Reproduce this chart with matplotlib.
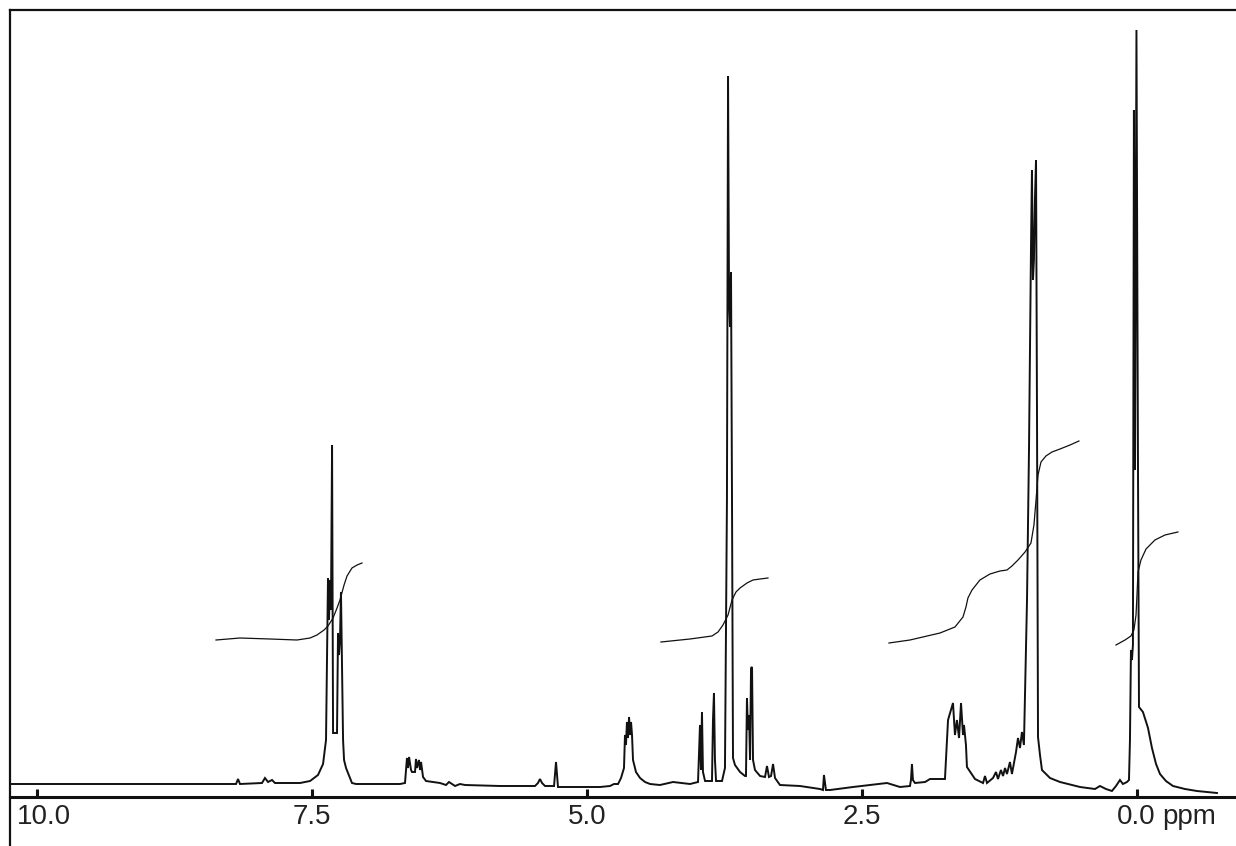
import matplotlib
matplotlib.use("Agg")
import matplotlib.pyplot as plt
from matplotlib.lines import Line2D
from matplotlib.transforms import ScaledTranslation

plt.rcParams["font.family"] = ["Liberation Sans", "DejaVu Sans"]

# %% spectrum trace (ppm, intensity)
spec_ppm = [
    10.243, 8.243, 8.188, 8.170, 8.152, 7.952, 7.925, 7.897, 7.861, 7.834,
    7.606, 7.515, 7.443, 7.397, 7.370, 7.352, 7.343, 7.334, 7.325, 7.315,
    7.306, 7.270, 7.261, 7.252, 7.243, 7.234, 7.215, 7.206, 7.188, 7.134,
    7.097, 6.697, 6.652, 6.634, 6.625, 6.615, 6.597, 6.588, 6.561, 6.552,
    6.543, 6.525, 6.515, 6.506, 6.488, 6.461, 6.334, 6.279, 6.252, 6.225,
    6.197, 6.152, 6.106, 5.788, 5.470, 5.443, 5.425, 5.406, 5.379, 5.297,
    5.279, 5.261, 4.879, 4.788, 4.752, 4.715, 4.688, 4.661, 4.652, 4.643,
    4.634, 4.625, 4.615, 4.606, 4.597, 4.588, 4.579, 4.552, 4.515, 4.470,
    4.424, 4.334, 4.215, 4.061, 3.988, 3.970, 3.961, 3.952, 3.943, 3.924,
    3.861, 3.852, 3.843, 3.834, 3.824, 3.770, 3.743, 3.725, 3.715, 3.706,
    3.697, 3.688, 3.679, 3.670, 3.652, 3.606, 3.561, 3.552, 3.543, 3.534,
    3.524, 3.515, 3.506, 3.497, 3.488, 3.470, 3.424, 3.379, 3.361, 3.343,
    3.324, 3.306, 3.288, 3.243, 3.061, 2.879, 2.852, 2.843, 2.825, 2.788,
    2.579, 2.424, 2.270, 2.152, 2.061, 2.052, 2.043, 2.034, 2.015, 1.924,
    1.879, 1.743, 1.715, 1.670, 1.652, 1.634, 1.615, 1.597, 1.579, 1.570,
    1.552, 1.543, 1.470, 1.397, 1.379, 1.361, 1.306, 1.279, 1.261, 1.234,
    1.215, 1.197, 1.179, 1.152, 1.134, 1.097, 1.079, 1.061, 1.043, 1.025,
    0.997, 0.979, 0.961, 0.952, 0.943, 0.934, 0.925, 0.915, 0.906, 0.897,
    0.879, 0.861, 0.788, 0.697, 0.515, 0.379, 0.334, 0.279, 0.225, 0.188,
    0.152, 0.125, 0.088, 0.070, 0.061, 0.052, 0.043, 0.034, 0.025, 0.015,
    0.002, -0.012, -0.021, -0.057, -0.103, -0.139, -0.176, -0.212, -0.266, -0.330,
    -0.439, -0.548, -0.730,
]
spec_int = [
    13, 13, 13, 18, 13, 14, 19, 15, 17, 14,
    14, 16, 22, 33, 57, 219, 177, 217, 187, 352,
    64, 64, 164, 142, 157, 205, 57, 37, 29, 14,
    13, 13, 14, 39, 29, 40, 27, 25, 25, 38,
    29, 37, 27, 35, 20, 16, 14, 12, 15, 13,
    11, 13, 12, 11, 11, 14, 18, 14, 11, 11,
    35, 10, 10, 11, 13, 13, 19, 29, 62, 52,
    75, 59, 80, 62, 75, 62, 37, 25, 19, 15,
    13, 12, 15, 13, 15, 72, 27, 85, 25, 16,
    16, 77, 104, 37, 16, 16, 29, 297, 721, 497,
    470, 525, 297, 39, 32, 25, 21, 21, 99, 67,
    82, 37, 129, 130, 37, 27, 21, 20, 31, 20,
    21, 33, 19, 12, 11, 8, 7, 22, 7, 7,
    10, 12, 14, 10, 11, 17, 33, 17, 14, 15,
    18, 18, 77, 94, 62, 77, 59, 94, 62, 72,
    52, 30, 18, 14, 21, 14, 19, 25, 18, 27,
    21, 29, 23, 35, 23, 45, 59, 49, 65, 52,
    197, 347, 547, 627, 517, 537, 597, 637, 377, 60,
    42, 27, 19, 15, 10, 8, 11, 8, 6, 11,
    17, 13, 15, 17, 57, 147, 137, 152, 687, 327,
    767, 327, 90, 85, 69, 49, 33, 23, 16, 11,
    8, 6, 4,
]

# %% integral curves
integ_arom_ppm = [8.370, 8.152, 7.879, 7.634, 7.515, 7.452, 7.388, 7.352, 7.306,
                  7.270, 7.243, 7.206, 7.179, 7.134, 7.088, 7.043]
integ_arom_val = [157, 159, 158, 157, 159, 162, 167, 171, 179,
                  189, 197, 212, 221, 229, 232, 234]

integ_ome_ppm = [4.325, 4.061, 3.861, 3.806, 3.761, 3.715, 3.679, 3.643, 3.606,
                 3.543, 3.488, 3.424, 3.352]
integ_ome_val = [155, 158, 161, 165, 172, 182, 197, 205, 209,
                 214, 217, 218, 219]

integ_alk_ppm = [2.252, 2.061, 1.788, 1.652, 1.579, 1.552, 1.534, 1.497, 1.425,
                 1.334, 1.243, 1.179, 1.134, 1.079, 1.015, 0.961, 0.934, 0.915,
                 0.897, 0.870, 0.825, 0.770, 0.697, 0.606, 0.525]
integ_alk_val = [154, 157, 164, 170, 180, 190, 199, 207, 217,
                 223, 226, 227, 231, 237, 245, 254, 272, 297,
                 322, 335, 341, 345, 348, 352, 356]

integ_tms_ppm = [0.188, 0.106, 0.052, 0.025, 0.006, -0.003, -0.012, -0.039,
                 -0.085, -0.166, -0.257, -0.375]
integ_tms_val = [152, 157, 161, 167, 182, 202, 225, 237,
                 248, 257, 262, 265]

tick_pos = [10.0, 7.5, 5.0, 2.5, 0.0]
tick_lbl = ["10.0", "7.5", "5.0", "2.5", "0.0"]

# %% figure
W, H = 1236, 846
fg = plt.figure(figsize=(W / 100, H / 100), dpi=100)
ax = fg.add_axes([10 / W, 49 / H, (W - 10) / W, 787 / H])

ax.plot(spec_ppm, spec_int, color="#111111", lw=1.4, solid_joinstyle="miter")
for p, v in ((integ_arom_ppm, integ_arom_val), (integ_ome_ppm, integ_ome_val),
             (integ_alk_ppm, integ_alk_val), (integ_tms_ppm, integ_tms_val)):
    ax.plot(p, v, color="#111111", lw=0.9)

ax.set_xlim(10.243, -0.903)
ax.set_ylim(0, 787)
ax.set_yticks([])
ax.set_xticks(tick_pos)
ax.set_xticklabels(tick_lbl)
ax.tick_params(axis="x", direction="in", length=6, width=2.2, pad=5,
               labelsize=20, color="#111111", labelcolor="#222222")

for s in ("left", "right"):
    ax.spines[s].set_visible(False)
ax.spines["bottom"].set_linewidth(2.2)
ax.spines["top"].set_linewidth(1.6)
for s in ("bottom", "top"):
    ax.spines[s].set_color("#111111")

# left border runs the full height of the frame
fg.add_artist(Line2D([10 / W, 10 / W], [0, (H - 10) / H], transform=fg.transFigure,
                     color="#111111", lw=1.6))

# nudge the first label clear of the border
lab0 = ax.get_xticklabels()[0]
lab0.set_transform(lab0.get_transform() + ScaledTranslation(5 / 72, 0, fg.dpi_scale_trans))

ax.annotate("ppm", xy=(-0.235, 0), xycoords=("data", "axes fraction"),
            xytext=(0, -5), textcoords="offset points", ha="left", va="top",
            fontsize=20, color="#222222")

fg.savefig("out.png", dpi=100)
